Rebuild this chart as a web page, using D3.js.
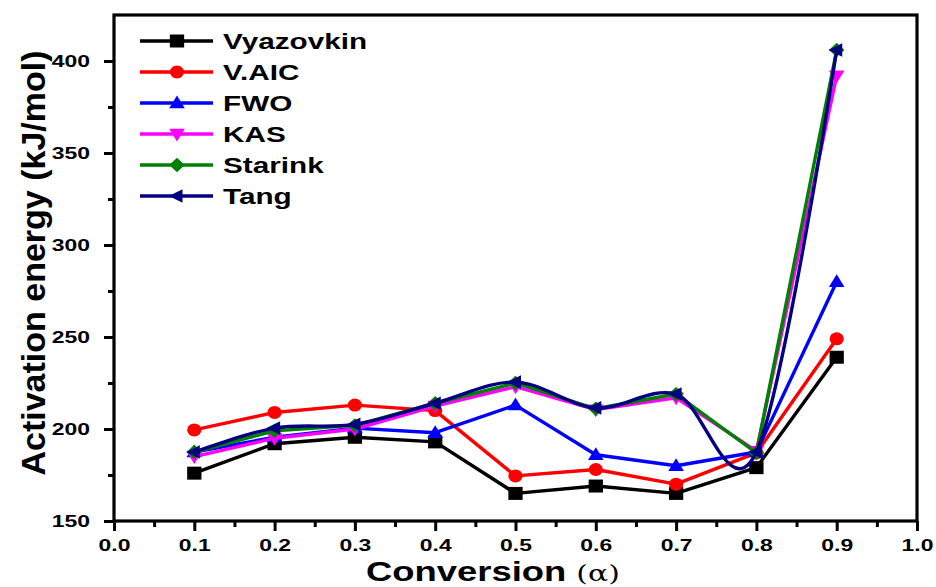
<!DOCTYPE html>
<html>
<head>
<meta charset="utf-8">
<script src="https://cdn.jsdelivr.net/npm/d3@7"></script>
<style>
  html, body { margin: 0; padding: 0; background: #fff; }
  svg { display: block; }
  text { font-family: Arial, "Liberation Sans", sans-serif; font-weight: bold; }
</style>
</head>
<body>
<svg id="chart" width="936" height="587"></svg>
<script>
// Conversion levels (alpha)
const conversion = [0.1, 0.2, 0.3, 0.4, 0.5, 0.6, 0.7, 0.8, 0.9];

// Activation energy (kJ/mol) by method
const vyazovkin = [176, 192, 195.5, 193, 165, 169, 165, 179, 239];
const vAic      = [199.5, 209, 213, 210, 174.5, 178, 170, 187, 249];
const fwo       = [187.5, 195.5, 200.5, 198, 213, 186, 180, 187.5, 280];
const kas       = [185, 195, 200, 212.5, 223, 210.5, 217, 188, 392];
const starink   = [187.5, 199, 202, 214, 225, 211, 219, 187, 406];
const tang      = [187.5, 200.5, 202.5, 214, 225.5, 211.5, 219, 187.5, 406];

const seriesNames = ["Vyazovkin", "V.AIC", "FWO", "KAS", "Starink", "Tang"];
const seriesValues = [vyazovkin, vAic, fwo, kas, starink, tang];
const seriesColors = ["#000000", "#ff0000", "#0000ff", "#ff00ff", "#008000", "#000080"];
const seriesMarkers = ["square", "circle", "triangleUp", "triangleDown", "diamond", "triangleLeft"];

const xTicks = [0.0, 0.1, 0.2, 0.3, 0.4, 0.5, 0.6, 0.7, 0.8, 0.9, 1.0];
const xMinorTicks = [0.05, 0.15, 0.25, 0.35, 0.45, 0.55, 0.65, 0.75, 0.85, 0.95];
const yTicks = [150, 200, 250, 300, 350, 400];
const yMinorTicks = [175, 225, 275, 325, 375];

const svg = d3.select("#chart");
const plotLeft = 114, plotRight = 917, plotTop = 15, plotBottom = 521;
const wide = 1.35; // horizontal stretch of the lettering

const x = d3.scaleLinear().domain([0, 1]).range([plotLeft, plotRight]);
const y = d3.scaleLinear().domain([150, 425]).range([plotBottom, plotTop]);

// Marker shapes
function markerPath(kind, s) {
  const h = s / 2;
  switch (kind) {
    case "square": return `M${-h * 1.1},${-h}H${h * 1.1}V${h}H${-h * 1.1}Z`;
    case "circle": return `M${-h * 1.1},0A${h * 1.1},${h} 0 1,0 ${h * 1.1},0A${h * 1.1},${h} 0 1,0 ${-h * 1.1},0Z`;
    case "triangleUp": return `M0,${-h * 1.15}L${h * 1.2},${h * 0.8}L${-h * 1.2},${h * 0.8}Z`;
    case "triangleDown": return `M0,${h * 1.15}L${h * 1.2},${-h * 0.8}L${-h * 1.2},${-h * 0.8}Z`;
    case "diamond": return `M0,${-h * 1.1}L${h * 1.2},0L0,${h * 1.1}L${-h * 1.2},0Z`;
    case "triangleLeft": return `M${-h * 1.25},0L${h * 0.85},${-h * 1.05}L${h * 0.85},${h * 1.05}Z`;
  }
}

// Series lines and markers
seriesValues.forEach((vals, i) => {
  const pts = conversion.map((c, k) => [c, vals[k]]);
  const curve = seriesNames[i] === "Tang" ? d3.curveCardinal.tension(0) : d3.curveLinear;
  const line = d3.line().x(d => x(d[0])).y(d => y(d[1])).curve(curve);
  svg.append("path")
    .attr("d", line(pts))
    .attr("fill", "none")
    .attr("stroke", seriesColors[i])
    .attr("stroke-width", 3.4)
    .attr("stroke-linejoin", "round");
  svg.append("g").selectAll("path")
    .data(pts)
    .join("path")
    .attr("transform", d => `translate(${x(d[0])},${y(d[1])})`)
    .attr("d", markerPath(seriesMarkers[i], 13))
    .attr("fill", seriesColors[i]);
});

// Frame
svg.append("rect")
  .attr("x", plotLeft).attr("y", plotTop)
  .attr("width", plotRight - plotLeft).attr("height", plotBottom - plotTop)
  .attr("fill", "none").attr("stroke", "#000").attr("stroke-width", 3.2);

// X axis
const xAxis = d3.axisBottom(x).tickValues(xTicks).tickFormat(d3.format(".1f")).tickSize(10).tickPadding(8);
const gx = svg.append("g").attr("transform", `translate(0,${plotBottom})`).call(xAxis);
gx.select(".domain").remove();
gx.selectAll("line").attr("stroke-width", 3);
gx.selectAll("text").attr("font-size", 17).attr("fill", "#000")
  .attr("transform", `scale(${wide},1)`);
const gxm = svg.append("g").attr("transform", `translate(0,${plotBottom})`)
  .call(d3.axisBottom(x).tickValues(xMinorTicks).tickSize(6).tickFormat(""));
gxm.select(".domain").remove();
gxm.selectAll("line").attr("stroke-width", 3);

// Y axis
const yAxis = d3.axisLeft(y).tickValues(yTicks).tickSize(10).tickPadding(14);
const gy = svg.append("g").attr("transform", `translate(${plotLeft},0)`).call(yAxis);
gy.select(".domain").remove();
gy.selectAll("line").attr("stroke-width", 3);
gy.selectAll("text").attr("font-size", 17).attr("fill", "#000")
  .each(function () {
    const tx = +this.getAttribute("x");
    this.setAttribute("x", tx / wide);
    this.setAttribute("transform", `scale(${wide},1)`);
  });
const gym = svg.append("g").attr("transform", `translate(${plotLeft},0)`)
  .call(d3.axisLeft(y).tickValues(yMinorTicks).tickSize(6).tickFormat(""));
gym.select(".domain").remove();
gym.selectAll("line").attr("stroke-width", 3);

// Axis titles
const xTitle = svg.append("text")
  .attr("transform", `translate(366,581) scale(1.3,1)`)
  .attr("font-size", 28);
xTitle.append("tspan").text("Conversion ");
xTitle.append("tspan").attr("font-weight", "normal").attr("font-size", 23)
  .attr("font-family", "'DejaVu Serif', serif").text("(α)");

svg.append("text")
  .attr("transform", `translate(45,263) rotate(-90)`)
  .attr("text-anchor", "middle").attr("font-size", 34)
  .text("Activation energy (kJ/mol)");

// Legend
const legend = svg.append("g");
seriesNames.forEach((name, i) => {
  const ly = 41 + i * 31;
  legend.append("line")
    .attr("x1", 140).attr("x2", 213).attr("y1", ly).attr("y2", ly)
    .attr("stroke", seriesColors[i]).attr("stroke-width", 3.4);
  legend.append("path")
    .attr("transform", `translate(177,${ly})`)
    .attr("d", markerPath(seriesMarkers[i], 13))
    .attr("fill", seriesColors[i]);
  legend.append("text")
    .attr("transform", `translate(223,${ly + 8}) scale(${wide},1)`)
    .attr("font-size", 22)
    .text(name);
});
</script>
</body>
</html>
